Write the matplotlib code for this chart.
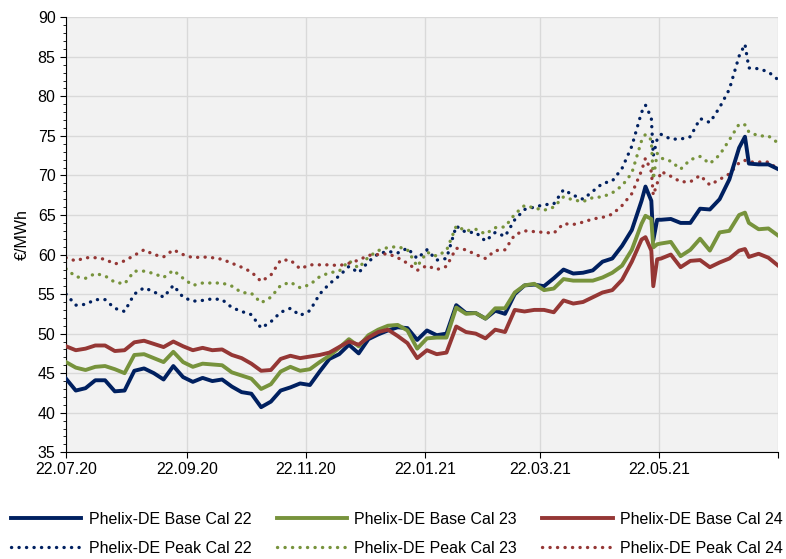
import matplotlib
matplotlib.use("Agg")
import matplotlib.pyplot as plt
from matplotlib.ticker import MultipleLocator
import pandas as pd

plt.rcParams["font.family"] = ["Liberation Sans", "DejaVu Sans"]

# trading dates (5-day grid plus a few extra days around the spikes)
dates = pd.date_range("2020-07-22", "2021-07-22", freq="5D").union(
    pd.to_datetime(["2021-05-15", "2021-05-19", "2021-05-21", "2021-07-05"]))

base22 = [44.3, 42.8, 43.1, 44.1, 44.1, 42.7, 42.8, 45.3, 45.6, 45.0,
          44.2, 45.9, 44.5, 43.9, 44.4, 44.0, 44.2, 43.3, 42.6, 42.4,
          40.7, 41.4, 42.8, 43.2, 43.7, 43.5, 45.2, 46.8, 47.4, 48.6,
          47.5, 49.3, 49.9, 50.4, 50.8, 50.7, 49.2, 50.4, 49.8, 50.0,
          53.6, 52.6, 52.6, 51.9, 52.9, 52.5, 55.0, 56.1, 56.2, 56.0,
          57.0, 58.1, 57.6, 57.7, 58.0, 59.1, 59.5, 61.1, 63.1,
          66.8, 68.6, 66.8, 61.8, 64.4, 64.4,
          64.5, 64.0, 64.0, 65.8, 65.7, 67.0, 69.5, 73.5,
          74.9,
          71.5, 71.4, 71.4, 70.8]
base23 = [46.4, 45.7, 45.4, 45.8, 45.9, 45.5, 45.0, 47.3, 47.4, 46.9,
          46.4, 47.7, 46.4, 45.8, 46.2, 46.1, 46.0, 45.1, 44.7, 44.3,
          43.0, 43.6, 45.2, 45.8, 45.3, 45.5, 46.4, 47.2, 48.2, 49.3,
          48.4, 49.8, 50.5, 51.0, 51.1, 50.4, 48.1, 49.4, 49.5, 49.5,
          53.3, 52.5, 52.6, 51.9, 53.2, 53.2, 55.2, 56.1, 56.3, 55.5,
          55.7, 56.9, 56.7, 56.7, 56.7, 57.1, 57.7, 58.6, 60.6,
          63.9, 64.9, 64.5, 60.9, 61.3, 61.4,
          61.6, 59.8, 60.6, 62.0, 60.5, 62.8, 63.0, 65.0,
          65.3,
          64.0, 63.2, 63.3, 62.4]
base24 = [48.4, 47.9, 48.1, 48.5, 48.5, 47.8, 47.9, 48.9, 49.1, 48.7,
          48.3, 49.0, 48.4, 47.9, 48.2, 47.9, 48.0, 47.3, 46.9, 46.2,
          45.3, 45.4, 46.8, 47.2, 46.9, 47.1, 47.3, 47.6, 48.3, 49.0,
          48.6, 49.5, 50.2, 50.5, 49.7, 48.8, 46.9, 47.9, 47.4, 47.6,
          50.9, 50.2, 50.0, 49.4, 50.5, 50.2, 53.0, 52.8, 53.0, 53.0,
          52.7, 54.2, 53.8, 54.0, 54.6, 55.2, 55.5, 56.8, 59.1,
          61.9, 62.2, 60.5, 56.0, 59.4, 59.5,
          60.0, 58.4, 59.2, 59.3, 58.4, 59.0, 59.5, 60.5,
          60.7,
          59.7, 60.1, 59.6, 58.6]
peak22 = [55.0, 53.6, 53.7, 54.3, 54.3, 53.2, 52.8, 55.0, 55.8, 55.3,
          54.6, 56.1, 54.6, 54.1, 54.2, 54.4, 54.3, 53.3, 52.8, 52.4,
          50.7, 51.5, 52.7, 53.2, 52.3, 52.9, 55.0, 56.3, 57.3, 58.5,
          57.7, 59.1, 60.1, 60.4, 60.2, 60.8, 59.5, 60.6, 59.3, 59.5,
          63.6, 62.8, 62.8, 61.7, 62.8, 62.3, 64.4, 65.7, 66.0, 66.3,
          66.4, 68.2, 67.5, 67.0, 68.0, 69.0, 69.3, 70.9, 73.7,
          78.0, 78.9, 77.3, 72.5, 74.6, 75.2,
          74.6, 74.6, 74.9, 77.2, 76.7, 78.6, 80.9, 85.1,
          86.6,
          83.6, 83.5, 83.1, 82.1]
peak23 = [58.2, 57.2, 57.0, 57.6, 57.3, 56.5, 56.3, 57.9, 57.9, 57.6,
          57.1, 58.0, 57.0, 56.1, 56.4, 56.4, 56.4, 56.0, 55.2, 55.1,
          53.9, 54.6, 56.1, 56.5, 55.8, 56.2, 57.2, 57.7, 57.9, 59.2,
          58.3, 59.7, 60.5, 60.9, 61.0, 60.6, 58.5, 60.3, 59.8, 60.5,
          63.6, 63.0, 63.2, 62.6, 63.4, 63.5, 65.1, 66.2, 65.9, 65.6,
          66.0, 67.3, 66.9, 66.7, 67.2, 67.3, 67.8, 68.7, 70.3,
          74.4, 75.2, 74.5, 69.5, 72.8, 72.2,
          71.8, 70.8, 72.0, 72.4, 71.5, 72.6, 74.5, 76.5,
          76.4,
          75.5, 75.0, 75.0, 74.1]
peak24 = [59.6, 59.2, 59.6, 59.6, 59.4, 58.8, 59.2, 59.9, 60.6, 60.0,
          59.7, 60.6, 60.0, 59.6, 59.7, 59.6, 59.4, 58.9, 58.4, 57.8,
          56.6, 57.4, 59.3, 59.3, 58.2, 58.7, 58.7, 58.7, 58.6, 58.9,
          59.3, 59.9, 60.0, 60.1, 59.6, 58.9, 58.0, 58.6, 58.1, 58.5,
          60.8, 60.6, 60.0, 59.5, 60.5, 60.6, 62.5, 63.0, 62.9, 62.8,
          62.7, 63.9, 63.8, 64.1, 64.5, 64.7, 65.1, 66.2, 67.7,
          70.6, 72.2, 70.5, 67.5, 69.0, 70.5,
          69.9, 69.2, 69.2, 70.0, 68.8, 69.5, 70.2, 71.6,
          71.9,
          71.7, 71.7, 71.7, 70.8]

tick_dates = pd.to_datetime(["2020-07-22", "2020-09-22", "2020-11-22", "2021-01-22",
                             "2021-03-22", "2021-05-22", "2021-07-22"])
tick_labels = ["22.07.20", "22.09.20", "22.11.20", "22.01.21", "22.03.21", "22.05.21", ""]

navy = "#002060"
green = "#77933C"
red = "#953735"
fs = 11.5

fig = plt.figure(figsize=(7.86, 5.59), dpi=100)
ax = fig.add_axes([0.084, 0.191, 0.906, 0.778])
ax.set_facecolor("#f2f2f2")

dot = (0, (0.05, 2.2))
l1, = ax.plot(dates, base22, color=navy, lw=2.8, label="Phelix-DE Base Cal 22")
l2, = ax.plot(dates, base23, color=green, lw=2.8, label="Phelix-DE Base Cal 23")
l3, = ax.plot(dates, base24, color=red, lw=2.8, label="Phelix-DE Base Cal 24")
p1, = ax.plot(dates, peak22, color=navy, lw=2.4, ls=dot, dash_capstyle="round",
              label="Phelix-DE Peak Cal 22")
p2, = ax.plot(dates, peak23, color=green, lw=2.4, ls=dot, dash_capstyle="round",
              label="Phelix-DE Peak Cal 23")
p3, = ax.plot(dates, peak24, color=red, lw=2.4, ls=dot, dash_capstyle="round",
              label="Phelix-DE Peak Cal 24")
# base lines on top of the dotted ones
for l in (l3, l2, l1):
    l.set_zorder(3)

ax.set_xlim(tick_dates[0], tick_dates[-1])
ax.set_ylim(35, 90)
ax.set_xticks(tick_dates)
ax.set_xticklabels(tick_labels)
ax.yaxis.set_major_locator(MultipleLocator(5))
ax.yaxis.set_minor_locator(MultipleLocator(1))
ax.tick_params(axis="both", which="major", labelsize=fs, direction="out", length=4, color="black")
ax.tick_params(axis="y", which="minor", direction="out", length=2.5)
ax.tick_params(axis="x", pad=3)

ax.grid(True, color="#d9d9d9", lw=1)
ax.set_axisbelow(True)
for s in ("top", "right"):
    ax.spines[s].set_visible(False)
ax.spines["left"].set_color("black")
ax.spines["bottom"].set_color("black")
ax.spines["bottom"].set_zorder(5)

ax.set_ylabel("€/MWh", fontsize=fs, labelpad=6)

fig.legend([l1, p1, l2, p2, l3, p3],
           [h.get_label() for h in (l1, p1, l2, p2, l3, p3)],
           loc="center", bbox_to_anchor=(0.505, 0.045), ncol=3, frameon=False,
           fontsize=fs, handlelength=4.4, handletextpad=0.45, columnspacing=1.6,
           labelspacing=0.85)

fig.savefig("out.png", dpi=100)
